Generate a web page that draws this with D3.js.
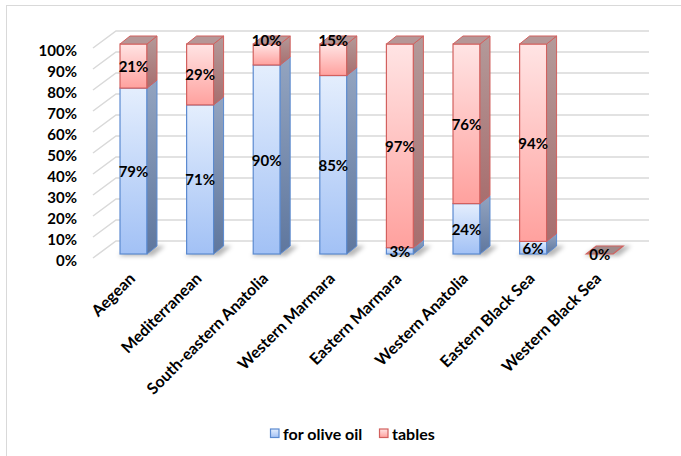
<!DOCTYPE html>
<html>
<head>
<meta charset="utf-8">
<script src="https://cdn.jsdelivr.net/npm/d3@7"></script>
<style>
  html, body { margin: 0; padding: 0; background: #fff; }
  svg { display: block; }
  text { font-family: Lato, "Liberation Sans", Arial, sans-serif; font-weight: bold; fill: #000; }
</style>
</head>
<body>
<svg id="chart" width="681" height="456"></svg>
<script>
// Share of olive harvest by region: for olive oil vs. table olives (%)
const categories = ["Aegean", "Mediterranean", "South-eastern Anatolia", "Western Marmara",
                    "Eastern Marmara", "Western Anatolia", "Eastern Black Sea", "Western Black Sea"];
const oilValues    = [79, 71, 90, 85, 3, 24, 6, 0];
const tablesValues = [21, 29, 10, 15, 97, 76, 94, 0];
const seriesNames  = ["for olive oil", "tables"];
const yTicks = [0, 10, 20, 30, 40, 50, 60, 70, 80, 90, 100];

const svg = d3.select("#chart");

// outer chart frame
svg.append("rect").attr("x", 6.5).attr("y", 5.5).attr("width", 700).attr("height", 470)
  .attr("fill", "none").attr("stroke", "#d9d9d9").attr("stroke-width", 1);

// 3D projection offsets
const wallDx = 23, wallDy = -17;   // floor front edge -> back wall
const barDx = 10, barDy = -8;      // bar depth

const x = d3.scaleBand().domain(categories).range([100.2, 633])
  .paddingInner(0.595).paddingOuter(0.2975);
const yFront = d3.scaleLinear().domain([0, 100]).range([258, 48]);  // front edge of floor / axis
const yBar   = d3.scaleLinear().domain([0, 100]).range([254, 44]);  // bar front faces
const yBack  = d3.scaleLinear().domain([0, 100]).range([241, 31]);  // back wall

const defs = svg.append("defs");
function grad(id, c0, c1) {
  const g = defs.append("linearGradient").attr("id", id)
    .attr("x1", 0).attr("y1", 0).attr("x2", 0).attr("y2", 1);
  g.append("stop").attr("offset", "0%").attr("stop-color", c0);
  g.append("stop").attr("offset", "100%").attr("stop-color", c1);
}
grad("oilFront", "#e4eefd", "#a2c1f5");
grad("oilSide", "#93a4c0", "#5f779e");
grad("tabFront", "#ffe4e4", "#ffa19e");
grad("tabSide", "#b39a9a", "#a86e6e");
defs.append("filter").attr("id", "shadowBlur").attr("x", "-50%").attr("y", "-100%")
  .attr("width", "200%").attr("height", "300%")
  .append("feGaussianBlur").attr("stdDeviation", 2.2);

const styles = [
  { front: "url(#oilFront)", side: "url(#oilSide)", top: "#9aa8c0", stroke: "#5b8ad0" },
  { front: "url(#tabFront)", side: "url(#tabSide)", top: "#b59797", stroke: "#d2605e" }
];

// gridlines on the side and back walls
const grid = svg.append("g").attr("stroke", "#d9d9d9").attr("stroke-width", 1.5).attr("fill", "none");
yTicks.forEach(t => {
  grid.append("path").attr("d",
    `M93,${yFront(t)} L${93 + wallDx},${yBack(t)} L649,${yBack(t)}`);
});

// y axis labels
svg.append("g").selectAll("text").data(yTicks).join("text")
  .attr("x", 77).attr("y", d => yFront(d) + 2)
  .attr("text-anchor", "end").attr("dominant-baseline", "central")
  .style("font-size", "15px")
  .text(d => d + "%");

const rows = categories.map((c, i) => ({ cat: c, vals: [oilValues[i], tablesValues[i]] }));

// floor shadows
svg.append("g").attr("filter", "url(#shadowBlur)").selectAll("polygon").data(rows).join("polygon")
  .attr("fill", "#000").attr("opacity", 0.28)
  .attr("points", d => {
    const x0 = x(d.cat), x1 = x0 + x.bandwidth();
    const yb = yBar(0);
    return [[x0 - 2, yb + 2], [x1 + 6, yb + 2], [x1 + 18, yb - 8], [x0 + 12, yb - 8]]
      .map(p => p.join(",")).join(" ");
  });

const bars = svg.append("g");
const labels = [];
rows.forEach(d => {
  const x0 = x(d.cat), x1 = x0 + x.bandwidth();
  const total = d.vals[0] + d.vals[1];
  let base = 0;
  d.vals.forEach((v, s) => {
    const st = styles[s];
    const yb = yBar(base), yt = yBar(base + v);
    if (v > 0) {
      bars.append("rect").attr("x", x0).attr("y", yt).attr("width", x1 - x0).attr("height", yb - yt)
        .attr("fill", st.front).attr("stroke", st.stroke).attr("stroke-width", 1.2);
      bars.append("polygon")
        .attr("points", [[x1, yt], [x1 + barDx, yt + barDy], [x1 + barDx, yb + barDy], [x1, yb]]
          .map(p => p.join(",")).join(" "))
        .attr("fill", st.side).attr("stroke", st.stroke).attr("stroke-width", 1);
      const isTop = s === 1 || d.vals[1] === 0;
      if (isTop) {
        bars.append("polygon")
          .attr("points", [[x0, yt], [x0 + barDx, yt + barDy], [x1 + barDx, yt + barDy], [x1, yt]]
            .map(p => p.join(",")).join(" "))
          .attr("fill", st.top).attr("stroke", st.stroke).attr("stroke-width", 1);
      }
      // thin top segments get their label lifted above the bar
      let ly = (yb + yt) / 2;
      if (s === 1 && v < 20 && base > 0) ly = yBar(100) - 4;
      labels.push({ x: (x0 + x1) / 2, y: ly, text: v + "%" });
    }
    base += v;
  });
  if (total === 0) {
    // empty category: flat top face on the floor
    const st = styles[1];
    const yt = yBar(0);
    bars.append("polygon")
      .attr("points", [[x0, yt], [x0 + barDx, yt + barDy], [x1 + barDx, yt + barDy], [x1, yt]]
        .map(p => p.join(",")).join(" "))
      .attr("fill", "#a08a8a").attr("stroke", st.stroke).attr("stroke-width", 1.2);
    labels.push({ x: (x0 + x1) / 2, y: yt - 0, text: "0%" });
  }
});

// value labels
svg.append("g").selectAll("text").data(labels).join("text")
  .attr("x", d => d.x).attr("y", d => d.y)
  .attr("text-anchor", "middle").attr("dominant-baseline", "central")
  .style("font-size", "15px")
  .text(d => d.text);

// category labels, rotated 45 degrees
svg.append("g").selectAll("text").data(categories).join("text")
  .attr("text-anchor", "end").attr("dominant-baseline", "central")
  .style("font-size", "16px")
  .attr("transform", d => `translate(${x(d) + x.bandwidth() / 2 - 2},${275}) rotate(-45)`)
  .text(d => d);

// legend
const legend = svg.append("g").attr("transform", "translate(270,433)");
const legendX = [0, 109];
seriesNames.forEach((n, i) => {
  const g = legend.append("g").attr("transform", `translate(${legendX[i]},0)`);
  g.append("rect").attr("x", 0.5).attr("y", -4).attr("width", 8.5).attr("height", 8.5)
    .attr("fill", styles[i].front).attr("stroke", styles[i].stroke).attr("stroke-width", 1.2);
  g.append("text").attr("x", 13).attr("y", 0).attr("dominant-baseline", "central")
    .style("font-size", "16px").text(n);
});
</script>
</body>
</html>
